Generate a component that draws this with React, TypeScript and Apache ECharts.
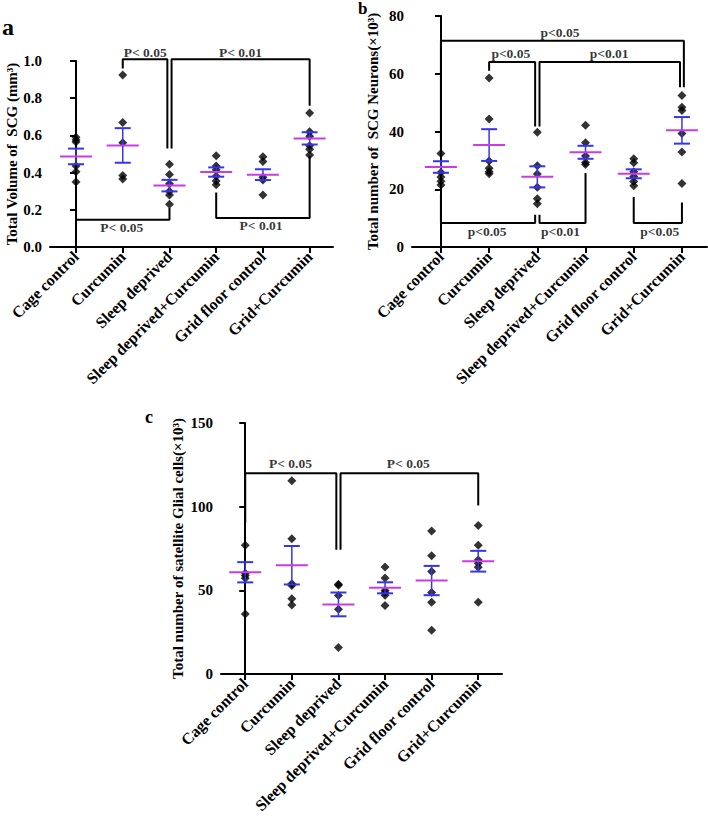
import React, { useEffect, useRef } from "react";
import * as echarts from "echarts";

const categories = [
  "Cage control",
  "Curcumin",
  "Sleep deprived",
  "Sleep deprived+Curcumin",
  "Grid floor control",
  "Grid+Curcumin",
];

// Panel a: Total volume of SCG (mm3)
const volumePoints = [
  [0.59, 0.575, 0.565, 0.435, 0.405, 0.35],
  [0.925, 0.67, 0.56, 0.385, 0.365],
  [0.445, 0.39, 0.34, 0.3, 0.28, 0.23],
  [0.49, 0.435, 0.415, 0.38, 0.355, 0.335],
  [0.485, 0.46, 0.375, 0.36, 0.28],
  [0.72, 0.62, 0.595, 0.545, 0.525, 0.495],
];
const volumeMean = [0.487, 0.546, 0.33, 0.403, 0.389, 0.584];
const volumeSem = [0.042, 0.093, 0.031, 0.025, 0.029, 0.033];

// Panel b: Total number of SCG neurons (x10^3)
const neuronPoints = [
  [32.4, 25.8, 24.2, 22.8, 21.5],
  [58.5, 44.3, 29.8, 27.3, 26.1, 25.4],
  [39.7, 28.1, 25.3, 20.7, 16.7, 15.0],
  [42.2, 36.1, 31.5, 29.3, 28.6],
  [30.6, 29.2, 26.1, 24.4, 22.7, 21.2],
  [52.5, 48.4, 47.3, 39.3, 32.9, 22.0],
];
const neuronMean = [27.7, 35.3, 24.3, 32.8, 25.35, 40.4];
const neuronSem = [2.0, 5.5, 3.65, 2.25, 1.55, 4.6];

// Panel c: Total number of satellite glial cells (x10^3)
const gliaPoints = [
  [77.0, 60.2, 58.8, 57.2, 35.9],
  [115.5, 80.8, 53.9, 52.9, 44.9, 41.3],
  [53.7, 53.0, 46.9, 38.7, 15.8],
  [64.0, 57.4, 49.9, 48.7, 47.1, 40.9],
  [85.4, 70.6, 61.2, 48.7, 42.9, 26.1],
  [88.8, 77.0, 68.2, 66.2, 63.8, 42.9],
];
const gliaMean = [60.8, 65.0, 41.6, 51.5, 55.85, 67.4];
const gliaSem = [6.05, 11.5, 7.1, 3.3, 8.75, 6.2];

// Significance brackets: path in (category index, value) units, label position
const volumeBrackets = [
  { label: "P< 0.05", path: [[1, 0.96], [1, 1.01], [1.955, 1.01], [1.955, 0.53]], at: [1.48, 1.045] },
  { label: "P< 0.01", path: [[2.045, 0.53], [2.045, 1.01], [5, 1.01], [5, 0.76]], at: [3.52, 1.045] },
  { label: "P< 0.05", path: [[0, 0.317], [0, 0.147], [2, 0.147], [2, 0.21]], at: [0.98, 0.105] },
  { label: "P< 0.01", path: [[3, 0.293], [3, 0.156], [5, 0.156], [5, 0.49]], at: [3.96, 0.115] },
];
const neuronBrackets = [
  { label: "p<0.05", path: [[0, 33.8], [0, 71.4], [5.04, 71.4], [5.04, 55.3]], at: [2.47, 74.3] },
  { label: "p<0.05", path: [[1, 61], [1, 64.1], [1.955, 64.1], [1.955, 41.7]], at: [1.45, 66.9] },
  { label: "p<0.01", path: [[2.045, 41.7], [2.045, 64.1], [4.96, 64.1], [4.96, 55.3]], at: [3.49, 66.9] },
  { label: "p<0.05", path: [[0, 18.3], [0, 8.3], [1.955, 8.3], [1.955, 11.2]], at: [0.96, 5.5] },
  { label: "p<0.01", path: [[2.045, 11.2], [2.045, 8.3], [3, 8.3], [3, 25.6]], at: [2.48, 5.5] },
  { label: "p<0.05", path: [[4, 17.3], [4, 8.3], [5, 8.3], [5, 15.4]], at: [4.54, 5.5] },
];
const gliaBrackets = [
  { label: "P< 0.05", path: [[0, 90.2], [0, 120], [1.955, 120], [1.955, 74.2]], at: [0.97, 125.5] },
  { label: "P< 0.05", path: [[2.045, 74.2], [2.045, 120], [5, 120], [5, 100.7]], at: [3.5, 125.5] },
];

const yTitles = [
  "Total Volume of  SCG (mm³)",
  "Total number of  SCG Neurons(×10³)",
  "Total number of satellite Glial cells(×10³)",
];

const FONT = '"Liberation Serif", "Times New Roman", serif';
const BLUE = "#3535f0";
const MAGENTA = "#cc3ae8";

function panelSeries(g: number, points: number[][], mean: number[], sem: number[], brackets: any[]) {
  const series: any[] = [];
  brackets.forEach((b) => {
    series.push({
      type: "line",
      xAxisIndex: g,
      yAxisIndex: g,
      data: b.path,
      symbol: "none",
      lineStyle: { color: "#000", width: 2 },
      clip: false,
      silent: true,
      z: 2,
    });
  });
  series.push({
    type: "scatter",
    xAxisIndex: g,
    yAxisIndex: g,
    symbol: "diamond",
    symbolSize: 9,
    itemStyle: { color: "#000" },
    data: points.flatMap((arr, i) => arr.map((v) => [i, v])),
    clip: false,
    silent: true,
    z: 3,
  });
  series.push({
    type: "custom",
    xAxisIndex: g,
    yAxisIndex: g,
    clip: false,
    silent: true,
    z: 4,
    data: mean.map((m, i) => [i, m, sem[i]]),
    renderItem: (_p: any, api: any) => {
      const x = api.value(0);
      const m = api.value(1);
      const s = api.value(2);
      const pm = api.coord([x, m]);
      const pu = api.coord([x, m + s]);
      const pl = api.coord([x, m - s]);
      return {
        type: "group",
        children: [
          { type: "line", shape: { x1: pu[0], y1: pu[1], x2: pl[0], y2: pl[1] }, style: { stroke: BLUE, lineWidth: 1.5 } },
          { type: "line", shape: { x1: pu[0] - 8, y1: pu[1], x2: pu[0] + 8, y2: pu[1] }, style: { stroke: BLUE, lineWidth: 2 } },
          { type: "line", shape: { x1: pl[0] - 8, y1: pl[1], x2: pl[0] + 8, y2: pl[1] }, style: { stroke: BLUE, lineWidth: 2 } },
          { type: "line", shape: { x1: pm[0] - 16, y1: pm[1], x2: pm[0] + 16, y2: pm[1] }, style: { stroke: MAGENTA, lineWidth: 2 } },
        ],
      };
    },
  });
  series.push({
    type: "scatter",
    xAxisIndex: g,
    yAxisIndex: g,
    symbolSize: 0.1,
    itemStyle: { color: "transparent" },
    clip: false,
    silent: true,
    z: 5,
    data: brackets.map((b) => ({ name: b.label, value: b.at })),
    label: {
      show: true,
      position: "inside",
      formatter: "{b}",
      color: "#000",
      fontFamily: FONT,
      fontWeight: "bold",
      fontSize: 13.5,
    },
  });
  return series;
}

const grids = [
  { left: 50, top: 61, width: 283, height: 186 },
  { left: 412, top: 16, width: 295, height: 231 },
  { left: 221, top: 423, width: 281, height: 251 },
];
const xRanges = [
  [-0.557, 5.5],
  [-0.6, 5.52],
  [-0.52, 5.51],
];
const yMax = [1.0, 80, 150];
const yInterval = [0.2, 20, 50];
const nameGaps = [28, 32, 36];

export default function App() {
  const ref = useRef<HTMLDivElement>(null);
  useEffect(() => {
    if (!ref.current) return;
    const chart = echarts.init(ref.current, undefined, { renderer: "svg" });
    const axisLineStyle = { color: "#000", width: 2 };
    const ticks = [0, 1, 2, 3, 4, 5];
    const option: any = {
      animation: false,
      backgroundColor: "#fff",
      grid: grids.map((g) => ({ ...g, containLabel: false, outerBoundsMode: "none" })),
      xAxis: grids.map((_, g) => ({
        type: "value",
        gridIndex: g,
        min: xRanges[g][0],
        max: xRanges[g][1],
        axisLine: { show: true, onZero: false, lineStyle: axisLineStyle },
        axisTick: { show: true, customValues: ticks, length: 6, lineStyle: axisLineStyle },
        axisLabel: {
          customValues: ticks,
          formatter: (v: number) => categories[Math.round(v)],
          rotate: 45,
          fontSize: 16,
          fontWeight: "bold",
          fontFamily: FONT,
          color: "#000",
          margin: 7,
        },
        splitLine: { show: false },
      })),
      yAxis: grids.map((_, g) => ({
        type: "value",
        gridIndex: g,
        min: 0,
        max: yMax[g],
        interval: yInterval[g],
        axisLine: { show: true, lineStyle: axisLineStyle },
        axisTick: { show: true, length: 6, lineStyle: axisLineStyle },
        axisLabel: {
          fontSize: 15,
          fontWeight: "bold",
          fontFamily: FONT,
          color: "#000",
          margin: 8,
          formatter: g === 0 ? (v: number) => v.toFixed(1) : (v: number) => String(v),
        },
        splitLine: { show: false },
        name: yTitles[g],
        nameLocation: "middle",
        nameGap: nameGaps[g],
        nameTextStyle: { fontSize: 15, fontWeight: "bold", fontFamily: FONT, color: "#000" },
      })),
      graphic: [
        { type: "text", x: 2, y: 27, style: { text: "a", font: `bold 24px ${FONT}`, fill: "#000", verticalAlign: "middle" } },
        { type: "text", x: 358, y: 0, style: { text: "b", font: `bold 17px ${FONT}`, fill: "#000", verticalAlign: "top" } },
        { type: "text", x: 145, y: 417, style: { text: "c", font: `bold 18px ${FONT}`, fill: "#000", verticalAlign: "middle" } },
      ],
      series: [
        ...panelSeries(0, volumePoints, volumeMean, volumeSem, volumeBrackets),
        ...panelSeries(1, neuronPoints, neuronMean, neuronSem, neuronBrackets),
        ...panelSeries(2, gliaPoints, gliaMean, gliaSem, gliaBrackets),
      ],
    };
    chart.setOption(option);
    return () => chart.dispose();
  }, []);
  return <div ref={ref} style={{ position: "absolute", left: 0, top: 0, width: 708, height: 817 }} />;
}
